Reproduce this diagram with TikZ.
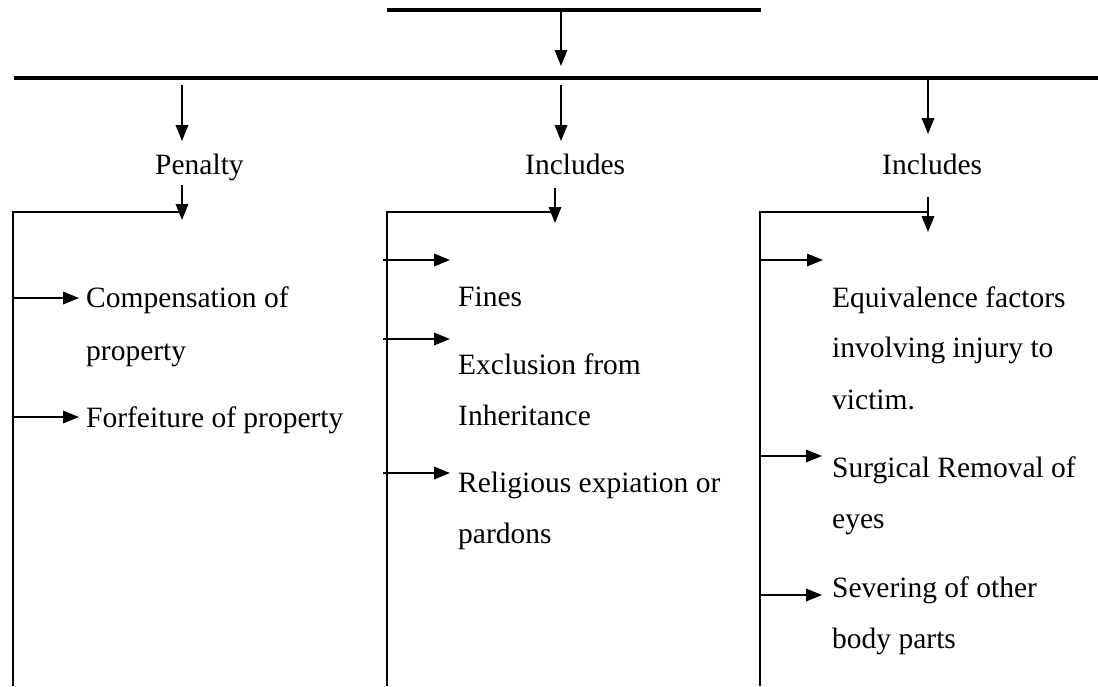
\documentclass[tikz,border=0pt]{standalone}
\usepackage{fontspec}
\setmainfont{Liberation Serif}
\usetikzlibrary{arrows.meta}
\begin{document}
\begin{tikzpicture}[x=1pt,y=-1pt,
  bar/.style={line width=3.2pt},
  rail/.style={line width=1.5pt},
  link/.style={line width=1.8pt,-{Triangle[length=16pt,width=12.5pt]}},
  lbl/.style={anchor=base west,inner sep=0pt,font=\fontsize{29.5}{51}\selectfont},
]
\useasboundingbox (0,0) rectangle (1098,686);
\fill[white] (0,0) rectangle (1098,686);

% header bar and the main bar below it
\coordinate (hL) at (387,10);
\coordinate (hR) at (761,10);
\draw[bar] (hL) -- (hR);
\coordinate (hDrop) at (561,8);
\coordinate (mIn) at (561,66);
\draw[link] (hDrop) -- (mIn);
\coordinate (mL) at (14,78);
\coordinate (mR) at (1098,78);
\draw[bar] (mL) -- (mR);

% three branch labels
\node[lbl] (pen)  at (155,174) {Penalty};
\node[lbl] (incA) at (525,174) {Includes};
\node[lbl] (incB) at (882,174) {Includes};

\coordinate (b1s) at (182,85);  \coordinate (b1e) at (182,141);
\coordinate (b2s) at (561,85);  \coordinate (b2e) at (561,141);
\coordinate (b3s) at (928,77);  \coordinate (b3e) at (928,134);
\draw[link] (b1s) -- (b1e);
\draw[link] (b2s) -- (b2e);
\draw[link] (b3s) -- (b3e);

% column 1: penalty
\coordinate (r1b) at (13,686);
\coordinate (r1c) at (13,212);
\coordinate (r1t) at (182,212);
\draw[rail] (r1b) -- (r1c) -- (r1t);
\coordinate (d1s) at (182,185); \coordinate (d1e) at (182,220);
\draw[link] (d1s) -- (d1e);

\node[lbl] (comp)  at (86,307) {Compensation of};
\node[lbl] (comp2) at (86,360) {property};
\node[lbl] (forf)  at (86,427) {Forfeiture of property};
\coordinate (a11) at (13,298); \coordinate (t11) at (79,298);
\coordinate (a12) at (13,417); \coordinate (t12) at (79,417);
\draw[link] (a11) -- (t11);
\draw[link] (a12) -- (t12);

% column 2: first list of inclusions
\coordinate (r2b) at (387,686);
\coordinate (r2c) at (387,212);
\coordinate (r2t) at (555,212);
\draw[rail] (r2b) -- (r2c) -- (r2t);
\coordinate (d2s) at (555,188); \coordinate (d2e) at (555,223);
\draw[link] (d2s) -- (d2e);

\node[lbl] (fines) at (458,306) {Fines};
\node[lbl] (excl)  at (458,374) {Exclusion from};
\node[lbl] (excl2) at (458,425) {Inheritance};
\node[lbl] (relig) at (458,492) {Religious expiation or};
\node[lbl] (relig2) at (458,543) {pardons};
\coordinate (a21) at (383,260); \coordinate (t21) at (450,260);
\coordinate (a22) at (383,339); \coordinate (t22) at (450,339);
\coordinate (a23) at (383,473); \coordinate (t23) at (450,473);
\draw[link] (a21) -- (t21);
\draw[link] (a22) -- (t22);
\draw[link] (a23) -- (t23);

% column 3: second list of inclusions
\coordinate (r3b) at (760,686);
\coordinate (r3c) at (760,212);
\coordinate (r3t) at (928,212);
\draw[rail] (r3b) -- (r3c) -- (r3t);
\coordinate (d3s) at (928,197); \coordinate (d3e) at (928,232);
\draw[link] (d3s) -- (d3e);

\node[lbl] (equi)  at (832,307) {Equivalence factors};
\node[lbl] (equi2) at (832,357) {involving injury to};
\node[lbl] (equi3) at (832,409) {victim.};
\node[lbl] (surg)  at (832,477) {Surgical Removal of};
\node[lbl] (surg2) at (832,528) {eyes};
\node[lbl] (sev)   at (832,597) {Severing of other};
\node[lbl] (sev2)  at (832,648) {body parts};
\coordinate (a31) at (760,260); \coordinate (t31) at (823,260);
\coordinate (a32) at (760,456); \coordinate (t32) at (822,456);
\coordinate (a33) at (760,595); \coordinate (t33) at (822,595);
\draw[link] (a31) -- (t31);
\draw[link] (a32) -- (t32);
\draw[link] (a33) -- (t33);
\end{tikzpicture}
\end{document}
